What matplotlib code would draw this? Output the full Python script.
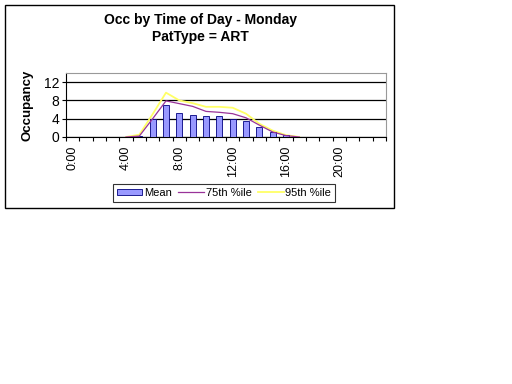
import numpy as np
import matplotlib.pyplot as plt
from matplotlib.patches import Rectangle

plt.rcParams['font.family'] = ['Liberation Sans', 'DejaVu Sans']

# Hourly data (0:00 .. 23:00)
hours = list(range(24))
hour_labels = ['%d:00' % h if h % 4 == 0 else '' for h in hours]
mean_occ = [0, 0, 0, 0, 0, 0.3, 4.0, 7.1, 5.3, 4.9, 4.5, 4.6,
            3.9, 3.5, 2.1, 1.0, 0.4, 0, 0, 0, 0, 0, 0, 0]
pct75 = [np.nan] * 4 + [0, 0.2, 4.0, 7.9, 7.3, 6.7, 5.6, 5.4,
                        5.1, 4.2, 2.6, 1.1, 0.3, 0] + [np.nan] * 6
pct95 = [np.nan] * 4 + [0, 0.5, 5.0, 9.7, 8.0, 7.4, 6.6, 6.6,
                        6.4, 5.1, 2.9, 1.4, 0.4, 0] + [np.nan] * 6

fig = plt.figure(figsize=(5.12, 3.84), dpi=100)

# outer chart border
fig.patches.append(Rectangle((5 / 512, 1 - 208 / 384), 389 / 512, 203 / 384,
                             transform=fig.transFigure, fill=False,
                             edgecolor='black', linewidth=1))

ax = fig.add_axes([66 / 512, 1 - 137 / 384, 320 / 512, 64 / 384])

x = np.arange(len(hours))
bars = ax.bar(x, mean_occ, width=0.45, color='#9999FF', edgecolor='#000080',
              linewidth=0.6, label='Mean', zorder=3)
l75, = ax.plot(x, pct75, color='#993399', linewidth=0.9, label='75th %ile', zorder=4)
l95, = ax.plot(x, pct95, color='#FFFF66', linewidth=1.3, label='95th %ile', zorder=2)

ax.set_xlim(-0.5, 23.5)
ax.set_ylim(0, 14)
ax.set_yticks([0, 4, 8, 12])
ax.yaxis.grid(True, color='black', linewidth=0.9, zorder=0)
ax.set_axisbelow(True)

# ticks between categories, labels at category centres
ax.set_xticks(np.arange(-0.5, 24, 1), minor=False)
ax.set_xticklabels([])
ax.set_xticks(x, minor=True)
ax.set_xticklabels(hour_labels, minor=True, rotation=90, fontsize=9)
ax.tick_params(axis='x', which='minor', length=0, pad=6)
ax.tick_params(axis='x', which='major', length=3, direction='out')
ax.tick_params(axis='y', length=3, direction='out', labelsize=10, pad=2)

for s in ['top', 'right']:
    ax.spines[s].set_color('#999999')
ax.spines['left'].set_color('black')
ax.spines['bottom'].set_color('black')

ax.set_ylabel('Occupancy', fontsize=9.5, fontweight='bold', labelpad=7)

fig.text(200 / 512, 1 - 20 / 384, 'Occ by Time of Day - Monday', ha='center',
         va='center', fontsize=10, fontweight='bold')
fig.text(200 / 512, 1 - 37 / 384, 'PatType = ART', ha='center',
         va='center', fontsize=10, fontweight='bold')

leg = fig.legend([bars, l75, l95], ['Mean', '75th %ile', '95th %ile'],
                 loc='center', bbox_to_anchor=(224 / 512, 1 - 193 / 384),
                 ncol=3, fontsize=8, frameon=True, fancybox=False,
                 edgecolor='black', handlelength=2.3, columnspacing=0.6,
                 handletextpad=0.15, borderpad=0.35, handleheight=0.5)
leg.get_frame().set_linewidth(0.8)

fig.savefig('out.png', dpi=100)
